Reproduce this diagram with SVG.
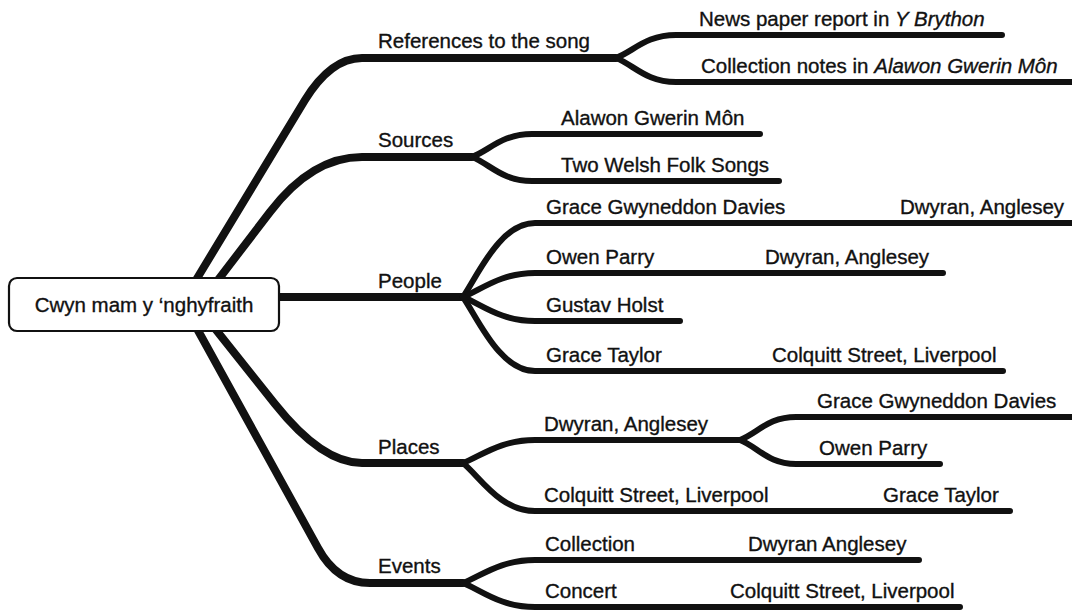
<svg xmlns="http://www.w3.org/2000/svg" width="1072" height="612" viewBox="0 0 1072 612">
<style>
.main{fill:none;stroke:#111;stroke-width:8;stroke-linecap:round;stroke-linejoin:round}
.sub{fill:none;stroke:#111;stroke-width:6;stroke-linecap:round;stroke-linejoin:round}
text{font-family:"Liberation Sans",Arial,Helvetica,sans-serif;font-size:20.5px;fill:#111;stroke:#111;stroke-width:0.35}
.it{font-style:italic}
.box{fill:#fff;stroke:#111;stroke-width:2.2}
</style>
<rect x="0" y="0" width="1072" height="612" fill="#fff"/>
<g id="connectors">
  <path class="main" d="M190,290 L305,100 Q331,58 362,58 L616,58"/>
  <path class="main" d="M205,297 L270,212 Q312,157 362,157 L472,157"/>
  <path class="main" d="M270,297 L463,297"/>
  <path class="main" d="M205,316 L275,404 Q322,463 362,463 L463,463"/>
  <path class="main" d="M190,316 L318,548 Q337,583 370,583 L463,583"/>
  <path class="sub" d="M616,58 C634,51 646,35 676,35 L1002,35"/>
  <path class="sub" d="M616,58 C634,65 646,82 676,82 L1080,82"/>
  <path class="sub" d="M472,157 C490,150 502,134 532,134 L760,134"/>
  <path class="sub" d="M472,157 C490,164 502,181 532,181 L779,181"/>
  <path class="sub" d="M463,297 C478,275 500,223 535,223 L1080,223"/>
  <path class="sub" d="M463,297 C481,290 500,273 535,273 L943,273"/>
  <path class="sub" d="M463,297 C481,304 500,321 535,321 L680,321"/>
  <path class="sub" d="M463,297 C478,319 500,371 535,371 L1003,371"/>
  <path class="sub" d="M463,463 C481,456 500,440 535,440 L740,440"/>
  <path class="sub" d="M463,463 C480,477 500,511 535,511 L1010,511"/>
  <path class="sub" d="M740,440 C758,433 768,417 796,417 L1080,417"/>
  <path class="sub" d="M740,440 C758,447 768,464 796,464 L940,464"/>
  <path class="sub" d="M463,583 C481,576 500,560 535,560 L919,560"/>
  <path class="sub" d="M463,583 C481,590 500,607 535,607 L960,607"/>
</g>
<g id="root">
  <rect class="box" x="9" y="278" width="270" height="53" rx="8"/>
  <text x="144" y="312" text-anchor="middle">Cwyn mam y ‘nghyfraith</text>
</g>
<g id="references"><text x="378" y="48">References to the song</text></g>
<g id="ref-news"><text x="699" y="26">News paper report in <tspan class="it">Y Brython</tspan></text></g>
<g id="ref-notes"><text x="701" y="73">Collection notes in <tspan class="it">Alawon Gwerin Môn</tspan></text></g>
<g id="sources"><text x="378" y="147">Sources</text></g>
<g id="src-alawon"><text x="561" y="125">Alawon Gwerin Môn</text></g>
<g id="src-two"><text x="561" y="172">Two Welsh Folk Songs</text></g>
<g id="people"><text x="378" y="288">People</text></g>
<g id="p-grace-gd"><text x="546" y="214">Grace Gwyneddon Davies</text><text x="900" y="214">Dwyran, Anglesey</text></g>
<g id="p-owen"><text x="546" y="264">Owen Parry</text><text x="765" y="264">Dwyran, Anglesey</text></g>
<g id="p-holst"><text x="546" y="312">Gustav Holst</text></g>
<g id="p-taylor"><text x="546" y="362">Grace Taylor</text><text x="772" y="362">Colquitt Street, Liverpool</text></g>
<g id="places"><text x="378" y="454">Places</text></g>
<g id="pl-dwyran"><text x="544" y="431">Dwyran, Anglesey</text></g>
<g id="pl-grace-gd"><text x="817" y="408">Grace Gwyneddon Davies</text></g>
<g id="pl-owen"><text x="819" y="455">Owen Parry</text></g>
<g id="pl-colquitt"><text x="544" y="502">Colquitt Street, Liverpool</text><text x="883" y="502">Grace Taylor</text></g>
<g id="events"><text x="378" y="573">Events</text></g>
<g id="ev-collection"><text x="545" y="551">Collection</text><text x="748" y="551">Dwyran Anglesey</text></g>
<g id="ev-concert"><text x="545" y="598">Concert</text><text x="730" y="598">Colquitt Street, Liverpool</text></g>
</svg>
